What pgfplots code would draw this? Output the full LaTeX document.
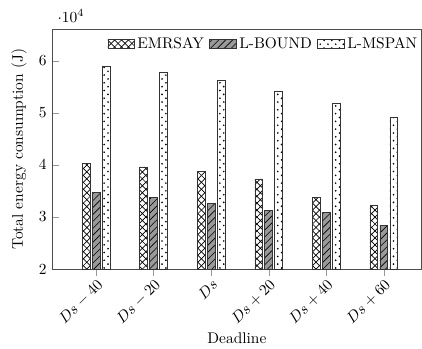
\documentclass[border=0pt]{standalone}
\usepackage{pgfplots}
\pgfplotsset{compat=1.18}
\usetikzlibrary{patterns}
\pgfdeclarepatternformonly{bigcross}{\pgfqpoint{-1pt}{-1pt}}{\pgfqpoint{5.5pt}{5.5pt}}{\pgfqpoint{4.5pt}{4.5pt}}{
  \pgfsetlinewidth{0.45pt}
  \pgfpathmoveto{\pgfqpoint{0pt}{0pt}}\pgfpathlineto{\pgfqpoint{4.5pt}{4.5pt}}
  \pgfpathmoveto{\pgfqpoint{0pt}{4.5pt}}\pgfpathlineto{\pgfqpoint{4.5pt}{0pt}}
  \pgfusepath{stroke}}
\pgfdeclarepatternformonly{bigne}{\pgfqpoint{-1pt}{-1pt}}{\pgfqpoint{5.5pt}{5.5pt}}{\pgfqpoint{4.5pt}{4.5pt}}{
  \pgfsetlinewidth{0.4pt}
  \pgfpathmoveto{\pgfqpoint{0pt}{0pt}}\pgfpathlineto{\pgfqpoint{4.6pt}{4.6pt}}
  \pgfusepath{stroke}}
\pgfdeclarepatternformonly{bigdots}{\pgfqpoint{-1pt}{-1pt}}{\pgfqpoint{6pt}{6pt}}{\pgfqpoint{5pt}{5pt}}{
  \pgfpathcircle{\pgfqpoint{0pt}{0pt}}{0.6pt}
  \pgfpathcircle{\pgfqpoint{2.5pt}{2.5pt}}{0.6pt}
  \pgfusepath{fill}}
\begin{document}
\begin{tikzpicture}
\begin{axis}[
  ybar=1.47pt,
  bar width=5pt,
  scale only axis,
  width=239.5pt, height=155.3pt,
  xmin=-0.764, xmax=5.66,
  ymin=20000, ymax=66000,
  ytick={20000,30000,40000,50000,60000},
  xtick={0,1,2,3,4,5},
  xtick pos=bottom, ytick pos=left,
  xtick align=outside,
  xticklabels={$Ds-40$,$Ds-20$,$Ds$,$Ds+20$,$Ds+40$,$Ds+60$},
  x tick label style={rotate=45, anchor=north east, inner sep=1pt},
  xlabel={Deadline},
  ylabel={Total energy consumption (J)},
  ylabel style={at={(rel axis cs:0,0.5)}, anchor=south, yshift=12.9pt, text height=11.5pt},
  axis line style={black!70},
  tick style={black!40},
  every y tick scale label/.style={at={(rel axis cs:0,1)}, anchor=south west, yshift=1.2pt, text height=11pt},
  legend columns=3,
  legend style={draw=none, fill=none, at={(0.999,0.985)}, anchor=north east, inner sep=0.5pt, /tikz/every even column/.append style={column sep=1.5pt}},
  legend image code/.code={\draw[#1] (0pt,-2.7pt) rectangle (17pt,2.7pt);},
]
\addplot[draw=black!80, fill=white, postaction={pattern=bigcross}] coordinates {(0,40300) (1,39600) (2,38800) (3,37300) (4,33700) (5,32200)};
\addplot[draw=black!80, fill=black!40, postaction={pattern=bigne}] coordinates {(0,34700) (1,33800) (2,32600) (3,31300) (4,30900) (5,28400)};
\addplot[draw=black!80, fill=white, postaction={pattern=bigdots}] coordinates {(0,59000) (1,57800) (2,56200) (3,54100) (4,51800) (5,49100)};
\legend{EMRSAY,L-BOUND,L-MSPAN}
\end{axis}
\end{tikzpicture}
\end{document}
